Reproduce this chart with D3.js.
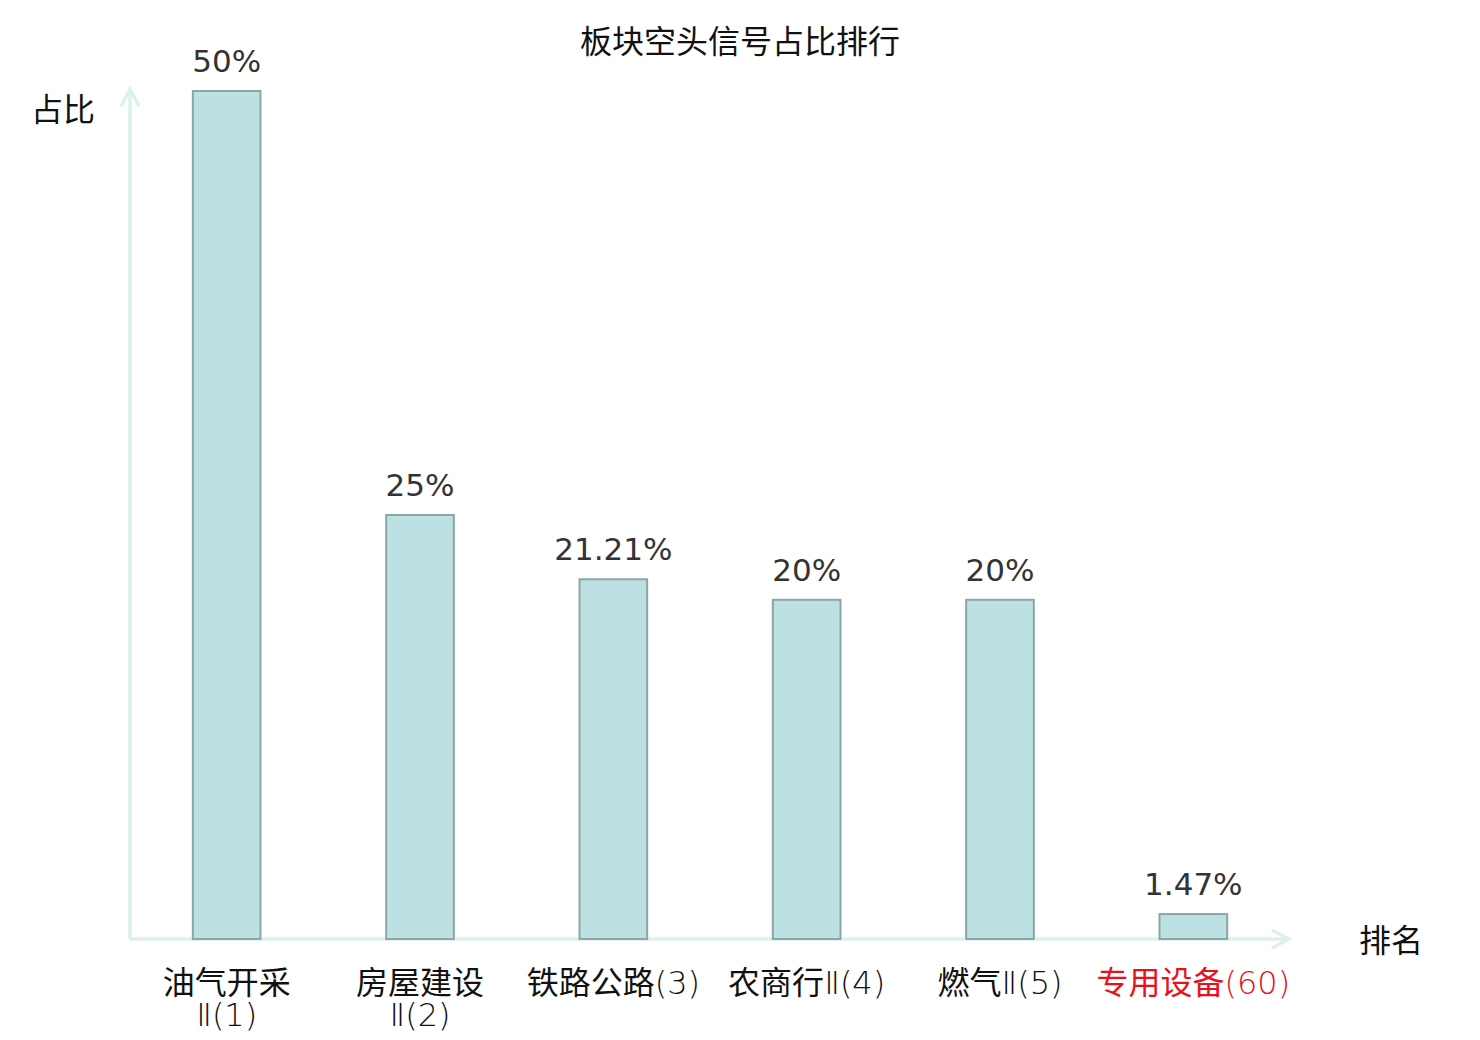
<!DOCTYPE html>
<html>
<head>
<meta charset="utf-8">
<script src="https://cdn.jsdelivr.net/npm/d3@7"></script>
<style>
  body { margin: 0; background: #fff; }
  text { font-family: "DejaVu Sans", "Noto Sans CJK SC", sans-serif; }
</style>
</head>
<body>
<div id="chart_container"></div>
<script>
// data
const categories = ["油气开采\nⅡ(1)", "房屋建设\nⅡ(2)", "铁路公路(3)", "农商行Ⅱ(4)", "燃气Ⅱ(5)", "专用设备(60)"];
const shares = [50, 25, 21.21, 20, 20, 1.47];
const highlighted = "专用设备(60)";

const width = 1480,
      height = 1040;

const svg = d3.select("#chart_container")
  .append("svg")
    .attr("width", width)
    .attr("height", height);

// scales
const x = d3.scaleBand()
    .domain(categories)
    .range([130, 1290])
    .paddingInner(0.65)
    .paddingOuter(0.325);

const y = d3.scaleLinear()
    .domain([0, 50])
    .range([939, 91]);

const axisColor = "#dcf1ee";
const cjk = "'Noto Sans CJK SC'";
const thin = "'DejaVu Sans ExtraLight', 'DejaVu Sans'";

// title
svg.append("text")
    .attr("x", 740)
    .attr("y", 53)
    .attr("text-anchor", "middle")
    .style("font-family", cjk)
    .style("font-size", "32px")
    .style("fill", "#111")
    .text("板块空头信号占比排行");

// axes with open arrow heads
const axes = svg.append("g")
    .attr("stroke", axisColor)
    .attr("stroke-width", 3.5)
    .attr("fill", "none");

axes.append("line")
    .attr("x1", 130).attr("y1", y(0))
    .attr("x2", 130).attr("y2", 89);
axes.append("path")
    .attr("d", `M121,106 L130,89 L139,106`);

axes.append("line")
    .attr("x1", 130).attr("y1", y(0))
    .attr("x2", 1290).attr("y2", y(0));
axes.append("path")
    .attr("d", `M1272,${y(0) - 9} L1289,${y(0)} L1272,${y(0) + 9}`);

// axis names
svg.append("text")
    .attr("x", 63)
    .attr("y", 121)
    .attr("text-anchor", "middle")
    .style("font-family", cjk)
    .style("font-size", "32px")
    .style("fill", "#111")
    .text("占比");

svg.append("text")
    .attr("x", 1391)
    .attr("y", 952)
    .attr("text-anchor", "middle")
    .style("font-family", cjk)
    .style("font-size", "32px")
    .style("fill", "#111")
    .text("排名");

// bars
svg.append("g")
  .selectAll("rect")
  .data(categories)
  .join("rect")
    .attr("x", d => x(d))
    .attr("y", (d, i) => y(shares[i]))
    .attr("width", x.bandwidth())
    .attr("height", (d, i) => y(0) - y(shares[i]))
    .attr("fill", "#bde0e3")
    .attr("stroke", "#8aa6a9")
    .attr("stroke-width", 2);

// value labels
svg.append("g")
  .selectAll("text")
  .data(categories)
  .join("text")
    .attr("x", d => x(d) + x.bandwidth() / 2)
    .attr("y", (d, i) => y(shares[i]) - 19)
    .attr("text-anchor", "middle")
    .style("font-size", "31px")
    .style("fill", "#333")
    .text((d, i) => `${+shares[i].toFixed(2)}%`);

// category labels: chinese part regular, the rest thin
const labels = svg.append("g")
  .selectAll("text")
  .data(categories)
  .join("text")
    .attr("x", d => x(d) + x.bandwidth() / 2)
    .attr("y", 994)
    .attr("text-anchor", "middle")
    .style("font-size", "32px")
    .style("fill", d => d === highlighted ? "#e8101a" : "#111");

labels.each(function(d) {
  const el = d3.select(this);
  const cx = el.attr("x");
  d.split("\n").forEach((line, li) => {
    const m = line.match(/^([\u4e00-\u9fff]*)(.*)$/);
    const first = el.append("tspan")
        .attr("x", cx)
        .attr("dy", li === 0 ? 0 : 32);
    if (m[1]) {
      first.style("font-family", cjk).text(m[1]);
      if (m[2]) el.append("tspan").style("font-family", thin).style("font-weight", 200).text(m[2]);
    } else {
      first.style("font-family", thin).style("font-weight", 200).text(m[2]);
    }
  });
});
</script>
</body>
</html>
